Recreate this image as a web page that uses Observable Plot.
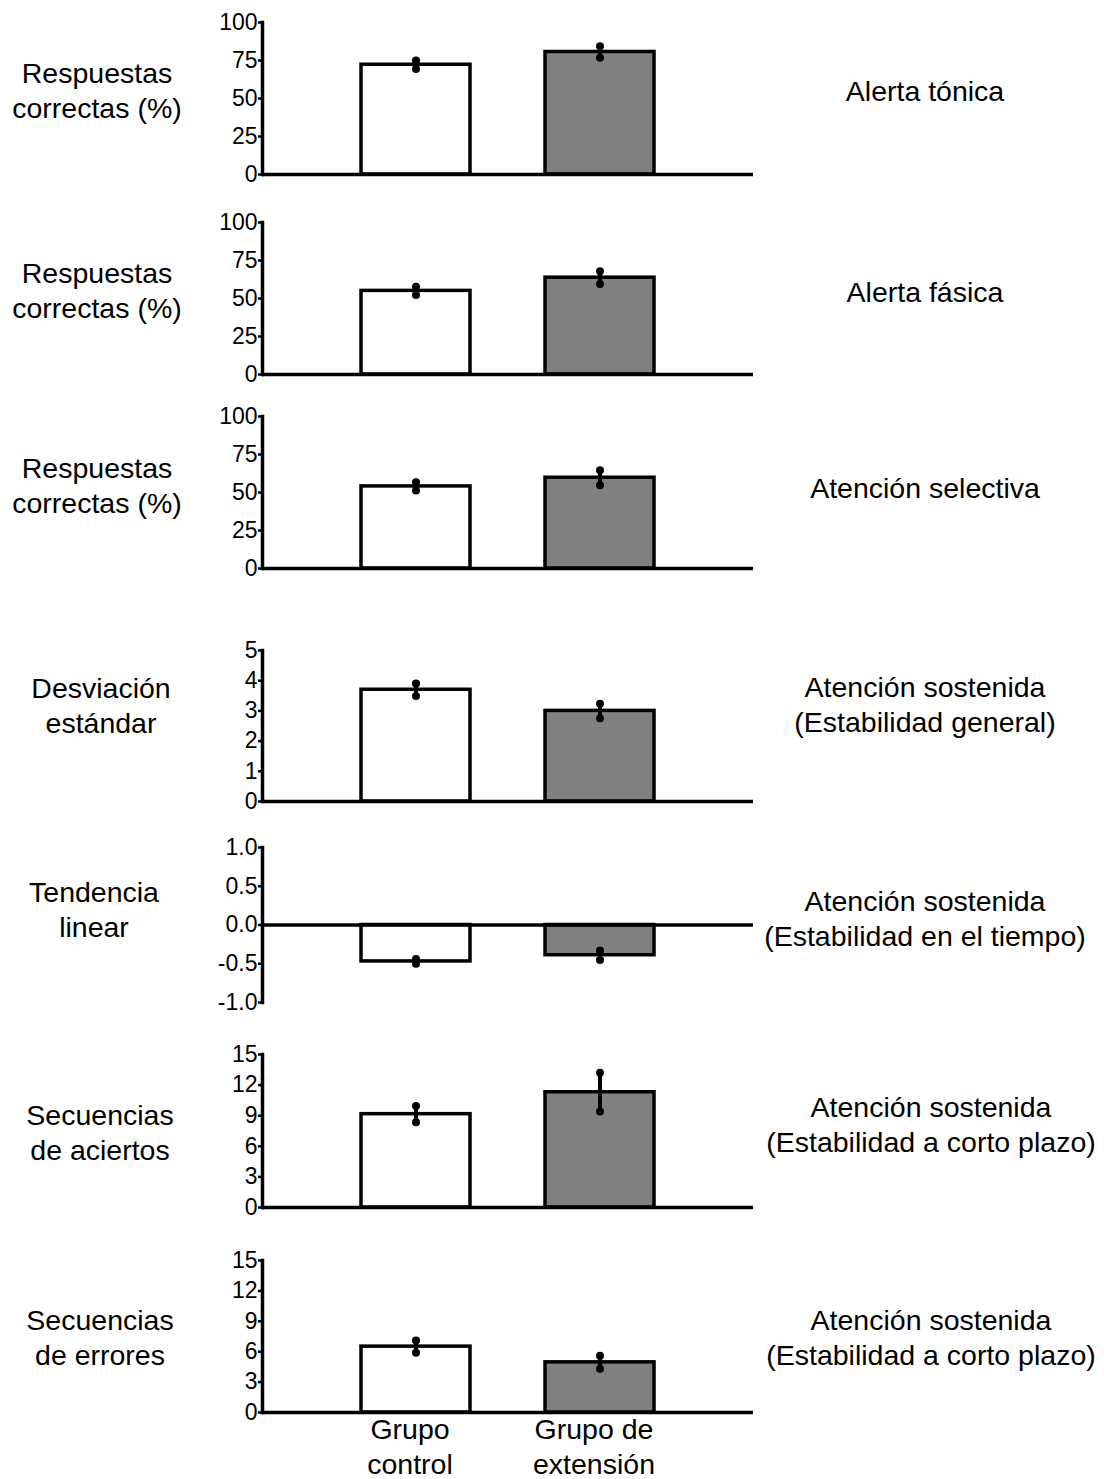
<!DOCTYPE html>
<html><head><meta charset="utf-8">
<script src="https://cdn.jsdelivr.net/npm/d3@7"></script>
<script src="https://cdn.jsdelivr.net/npm/@observablehq/plot@0.6"></script>
<style>
body{margin:0;background:#fff;font-family:"Liberation Sans",Arial,sans-serif;}
#wrap{position:relative;width:1104px;height:1479px;overflow:hidden;}
.lbl{position:absolute;transform:translate(-50%,-50%);text-align:center;font-size:28.5px;line-height:35px;white-space:nowrap;color:#000;}
.panel{position:absolute;left:0;}
</style></head><body><div id="wrap"></div>
<script>
// ---- data ----
const groups = ["Grupo control", "Grupo de extensión"];
const groupTickLabels = ["Grupo\ncontrol", "Grupo de\nextensión"];
const leftLabels = [
  ["Respuestas", "correctas (%)"],
  ["Respuestas", "correctas (%)"],
  ["Respuestas", "correctas (%)"],
  ["Desviación", "estándar"],
  ["Tendencia", "linear"],
  ["Secuencias", "de aciertos"],
  ["Secuencias", "de errores"]
];
const rightLabels = [
  ["Alerta tónica"],
  ["Alerta fásica"],
  ["Atención selectiva"],
  ["Atención sostenida", "(Estabilidad general)"],
  ["Atención sostenida", "(Estabilidad en el tiempo)"],
  ["Atención sostenida", "(Estabilidad a corto plazo)"],
  ["Atención sostenida", "(Estabilidad a corto plazo)"]
];
const yDomains = [[0, 100], [0, 100], [0, 100], [0, 5], [-1, 1], [0, 15], [0, 15]];
const yTicks = [
  [0, 25, 50, 75, 100],
  [0, 25, 50, 75, 100],
  [0, 25, 50, 75, 100],
  [0, 1, 2, 3, 4, 5],
  [-1, -0.5, 0, 0.5, 1],
  [0, 3, 6, 9, 12, 15],
  [0, 3, 6, 9, 12, 15]
];
const yTickDecimals = [0, 0, 0, 0, 1, 0, 0];
const controlMeans   = [72.2, 55.0, 54.0, 3.70, -0.47, 9.15, 6.50];
const controlErr     = [2.8, 2.7, 2.7, 0.21, 0.03, 0.80, 0.60];
const extensionMeans = [80.6, 63.7, 59.7, 3.00, -0.39, 11.3, 4.95];
const extensionErr   = [3.8, 4.2, 5.0, 0.24, 0.06, 1.90, 0.64];

// ---- layout (pixel position of top and bottom of each y range) ----
const layout = [
  [21.5, 173.5], [222, 374], [416, 568], [650, 801], [847, 1002], [1054, 1207], [1260, 1412]
];
const leftCenters = [[97, 90.5], [97, 291], [97, 485.5], [101, 706], [94, 909.5], [100, 1133], [100, 1337.5]];
const rightCenters = [[925, 91], [925, 292], [925, 488], [925, 704.5], [925, 919], [931, 1125], [931, 1338]];

const wrap = document.getElementById("wrap");
const fillFor = {"Grupo control": "#ffffff", "Grupo de extensión": "#808080"};

for (let i = 0; i < 7; i++) {
  const rows = [
    {group: groups[0], mean: controlMeans[i], err: controlErr[i]},
    {group: groups[1], mean: extensionMeans[i], err: extensionErr[i]}
  ];
  const last = i === 6;
  const mt = 20, mb = last ? 67 : 10;
  const [top, bot] = layout[i];
  const h = (bot - top) + mt + mb;
  const dec = yTickDecimals[i];
  const marks = [
    Plot.barY(rows, {x: "group", y: "mean", fill: d => fillFor[d.group], stroke: "#000", strokeWidth: 3.5}),
    Plot.ruleX(rows, {x: "group", y1: d => d.mean - d.err, y2: d => d.mean + d.err, stroke: "#000", strokeWidth: 4}),
    Plot.dot(rows, {x: "group", y: d => d.mean - d.err, r: 4, fill: "#000"}),
    Plot.dot(rows, {x: "group", y: d => d.mean + d.err, r: 4, fill: "#000"}),
    Plot.ruleY([0], {stroke: "#000", strokeWidth: 3.5}),
    Plot.frame({anchor: "left", stroke: "#000", strokeWidth: 3.5}),
    Plot.axisY({ticks: yTicks[i], tickFormat: d => d.toFixed(dec), label: null, tickSize: 4, tickPadding: 1, fontSize: 23, strokeWidth: 2.5})
  ];
  if (last) {
    marks.push(Plot.axisX({label: null, tickSize: 0, tickPadding: 2, fontSize: 28.5, lineHeight: 1.22, tickFormat: g => groupTickLabels[groups.indexOf(g)], dx: -6}));
  }
  const chart = Plot.plot({
    width: 1104,
    height: h,
    marginLeft: 262,
    marginRight: 351,
    marginTop: mt,
    marginBottom: mb,
    style: {fontFamily: "Liberation Sans, Arial, sans-serif", color: "#000", background: "transparent", overflow: "visible"},
    x: {domain: groups, paddingInner: 0.405, paddingOuter: 0.53, axis: null},
    y: {domain: yDomains[i], axis: null},
    marks
  });
  chart.classList.add("panel");
  chart.style.top = (top - mt) + "px";
  wrap.appendChild(chart);

  const l = document.createElement("div");
  l.className = "lbl";
  l.style.left = leftCenters[i][0] + "px";
  l.style.top = leftCenters[i][1] + "px";
  l.innerHTML = leftLabels[i].join("<br>");
  wrap.appendChild(l);

  const r = document.createElement("div");
  r.className = "lbl";
  r.style.left = rightCenters[i][0] + "px";
  r.style.top = rightCenters[i][1] + "px";
  r.innerHTML = rightLabels[i].join("<br>");
  wrap.appendChild(r);
}
</script></body></html>
